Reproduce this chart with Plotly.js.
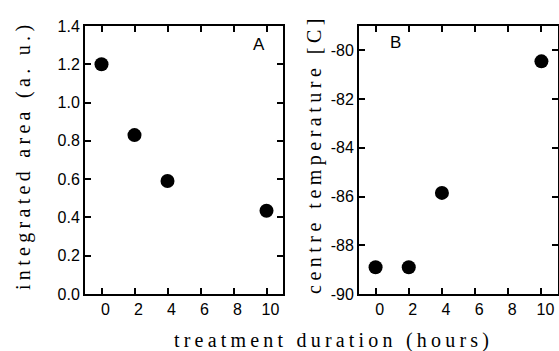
<!DOCTYPE html>
<html>
<head>
<meta charset="utf-8">
<script src="https://cdn.plot.ly/plotly-3.0.1.min.js"></script>
<style>
html, body { margin: 0; padding: 0; background: #fff; }
#chart { width: 559px; height: 351px; }
</style>
</head>
<body>
<div id="chart"></div>
<script>
// ---- data ----
const duration = [0, 2, 4, 10];
const integratedArea = [1.2, 0.83, 0.59, 0.435];
const centreTemp = [-88.9, -88.9, -85.85, -80.45];

const xTickVals = [0, 2, 4, 6, 8, 10];
const xTickText = ['0', '2', '4', '6', '8', '10'];
const yATickVals = [0, 0.2, 0.4, 0.6, 0.8, 1.0, 1.2, 1.4];
const yATickText = ['0.0', '0.2', '0.4', '0.6', '0.8', '1.0', '1.2', '1.4'];
const yBTickVals = [-90, -88, -86, -84, -82, -80];
const yBTickText = ['-90', '-88', '-86', '-84', '-82', '-80'];

const xTitle = 'treatment duration (hours)';
const yATitle = 'integrated area (a. u.)';
const yBTitle = 'centre temperature [C]';
const panelLabels = ['A', 'B'];

// ---- layout helpers ----
const W = 559, H = 351;
const px = v => v / W;
const py = v => 1 - v / H;

const tickFont = { family: 'Liberation Sans, Arial, sans-serif', size: 16, color: '#000' };
const titleFont = { family: 'Liberation Serif, Times New Roman, serif', size: 20, color: '#000' };
const spaced = (t, s) => '<span style="letter-spacing:' + s + 'px">' + t + '</span>';

function xAxis(domain, anchor) {
  return {
    domain: domain, anchor: anchor, range: [-1, 11],
    tickmode: 'array', tickvals: xTickVals, ticktext: xTickText,
    ticks: 'inside', ticklen: 6, tickwidth: 2, tickcolor: '#000',
    showline: true, linewidth: 2, linecolor: '#000', mirror: 'ticks',
    showgrid: false, zeroline: false, tickfont: tickFont, ticklabelshift: 4
  };
}
function yAxis(range, vals, text, anchor) {
  return {
    domain: [py(294), py(26)], anchor: anchor, range: range,
    tickmode: 'array', tickvals: vals, ticktext: text,
    ticks: 'inside', ticklen: 6, tickwidth: 2, tickcolor: '#000',
    showline: true, linewidth: 2, linecolor: '#000', mirror: 'ticks',
    showgrid: false, zeroline: false, tickfont: tickFont
  };
}

const marker = { symbol: 'circle', size: 14, color: '#000', line: { width: 0 } };

const traces = [
  { x: duration, y: integratedArea, xaxis: 'x', yaxis: 'y', type: 'scatter', mode: 'markers', marker: marker, cliponaxis: false, name: 'A' },
  { x: duration, y: centreTemp, xaxis: 'x2', yaxis: 'y2', type: 'scatter', mode: 'markers', marker: marker, cliponaxis: false, name: 'B' }
];

const layout = {
  width: W, height: H,
  margin: { l: 0, r: 0, t: 0, b: 0 },
  paper_bgcolor: '#fff', plot_bgcolor: '#fff',
  showlegend: false,
  xaxis: xAxis([px(85), px(283)], 'y'),
  yaxis: yAxis([0, 1.4], yATickVals, yATickText, 'x'),
  xaxis2: xAxis([px(359), px(558)], 'y2'),
  yaxis2: yAxis([-90, -79], yBTickVals, yBTickText, 'x2'),
  annotations: [
    { xref: 'paper', yref: 'paper', x: px(333), y: py(340), xanchor: 'center', yanchor: 'middle',
      text: spaced(xTitle, 4.2), showarrow: false, font: titleFont },
    { xref: 'paper', yref: 'paper', x: px(23), y: py(156), xanchor: 'center', yanchor: 'middle',
      text: spaced(yATitle, 4.3), textangle: -90, showarrow: false, font: titleFont },
    { xref: 'paper', yref: 'paper', x: px(314), y: py(154), xanchor: 'center', yanchor: 'middle',
      text: spaced(yBTitle, 4.5), textangle: -90, showarrow: false, font: titleFont },
    { xref: 'paper', yref: 'paper', x: px(259), y: py(45), xanchor: 'center', yanchor: 'middle',
      text: panelLabels[0], showarrow: false, font: { family: 'Liberation Sans, Arial, sans-serif', size: 17, color: '#000' } },
    { xref: 'paper', yref: 'paper', x: px(395), y: py(42.5), xanchor: 'center', yanchor: 'middle',
      text: panelLabels[1], showarrow: false, font: { family: 'Liberation Sans, Arial, sans-serif', size: 17, color: '#000' } }
  ]
};

Plotly.newPlot('chart', traces, layout, { displayModeBar: false, staticPlot: true });
</script>
</body>
</html>
